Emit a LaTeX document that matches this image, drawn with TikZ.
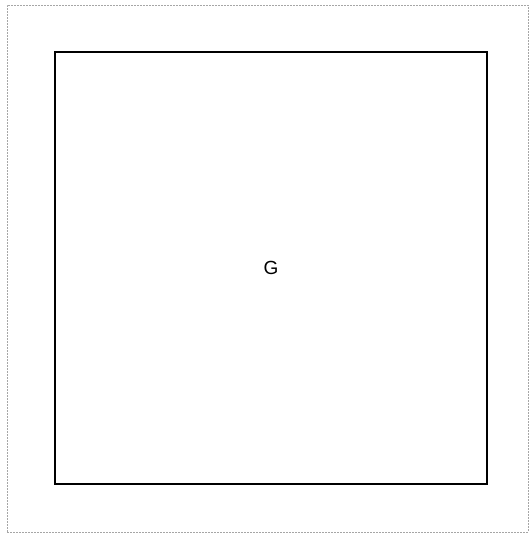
\documentclass[tikz,border=0pt]{standalone}
\usepackage{fontspec}
\setmainfont{Liberation Sans}
\begin{document}
\begin{tikzpicture}[
    x=1pt, y=-1pt,
    font=\fontsize{19}{23}\selectfont,
    frame/.style={draw=gray!70, dash pattern=on 2pt off 1pt, line width=0.9pt, minimum width=521pt, minimum height=527pt, inner sep=0pt},
    box/.style={draw, line width=2pt, minimum width=432pt, minimum height=432pt, inner sep=0pt, align=center}
  ]
    \useasboundingbox (0,0) rectangle (529,533);
    \node[frame] (border) at (267.5,268.5) {};
    \node[box] (g) at (271,268) {G};
  \end{tikzpicture}
\end{document}
